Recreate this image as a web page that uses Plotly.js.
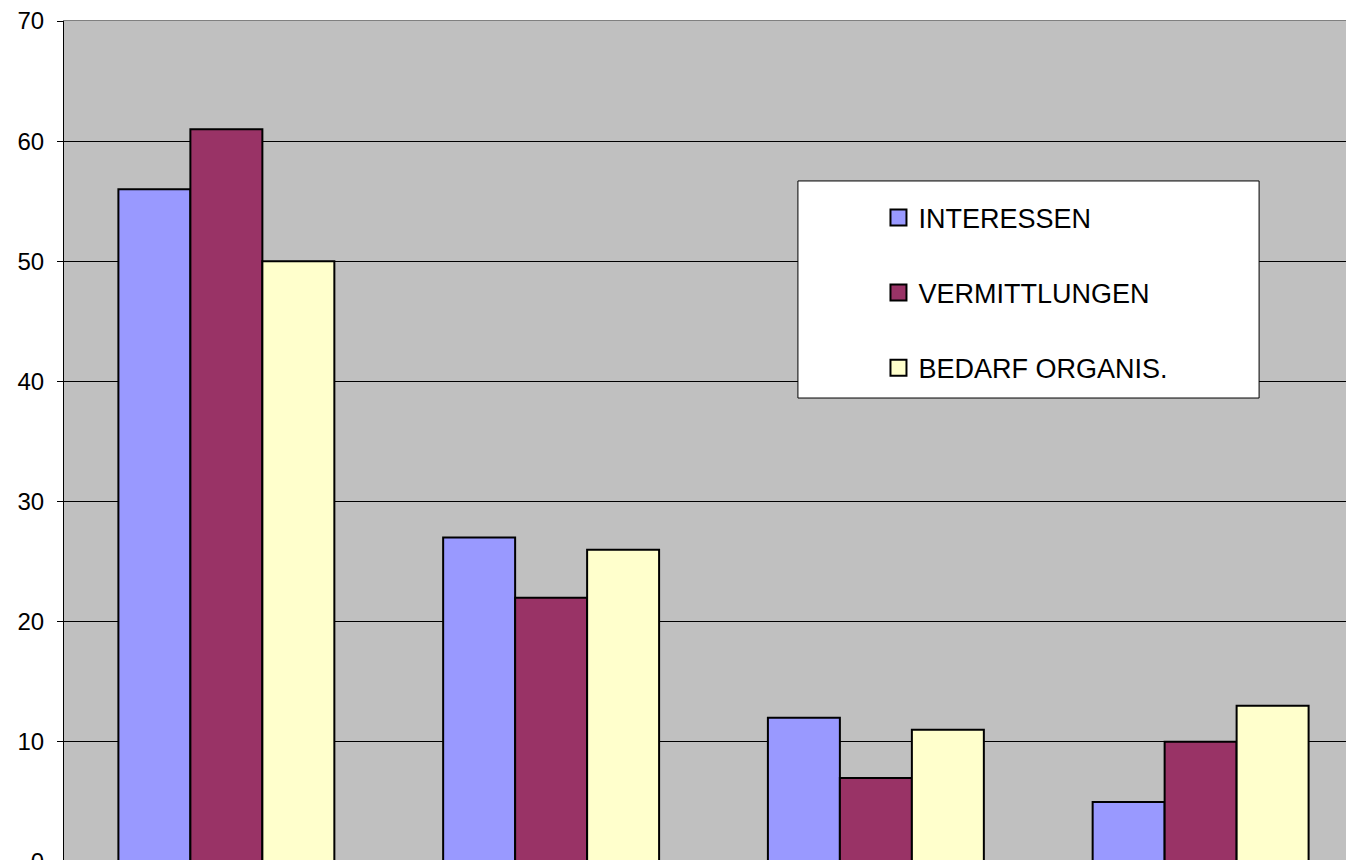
<!DOCTYPE html>
<html>
<head>
<meta charset="utf-8">
<script src="https://cdn.plot.ly/plotly-3.0.1.min.js"></script>
<style>
html,body{margin:0;padding:0;overflow:hidden;background:#fff;}
#chart{width:1363px;height:890px;}
</style>
</head>
<body>
<div id="chart"></div>
<script>
const categories = ["1", "2", "3", "4"];
const seriesNames = ["INTERESSEN", "VERMITTLUNGEN", "BEDARF ORGANIS."];
const interessen = [56, 27, 12, 5];
const vermittlungen = [61, 22, 7, 10];
const bedarfOrganis = [50, 26, 11, 13];
const yTicks = [0, 10, 20, 30, 40, 50, 60, 70];

const colors = ["#9999FF", "#993366", "#FFFFCC"];
const values = [interessen, vermittlungen, bedarfOrganis];

const traces = values.map((v, i) => ({
  type: "bar",
  name: seriesNames[i],
  x: categories,
  y: v,
  showlegend: false,
  marker: {color: colors[i], line: {color: "#000000", width: 2}},
  hoverinfo: "y+name"
}));

const legendTraces = seriesNames.map((n, i) => ({
  type: "scatter",
  mode: "markers",
  name: n,
  x: [null],
  y: [null],
  legendgroup: "g" + i,
  marker: {symbol: "square", size: 16, color: colors[i], line: {color: "#000000", width: 2}},
  hoverinfo: "skip"
}));

const layout = {
  width: 1363,
  height: 890,
  margin: {l: 64, r: 0, t: 21, b: 28, pad: 0},
  paper_bgcolor: "#FFFFFF",
  plot_bgcolor: "#C0C0C0",
  barmode: "group",
  bargap: 0.335,
  bargroupgap: 0,
  font: {family: "Liberation Sans, Arial, sans-serif", color: "#000000"},
  xaxis: {
    type: "category",
    showticklabels: false,
    ticks: "",
    showgrid: false,
    showline: true,
    mirror: true,
    linecolor: "#808080",
    linewidth: 1,
    zeroline: false
  },
  yaxis: {
    range: [0, 70],
    tickvals: yTicks,
    ticktext: yTicks.map(String),
    ticks: "outside",
    ticklen: 6,
    tickcolor: "#000000",
    ticklabelstandoff: 8,
    tickfont: {size: 24, family: "Liberation Sans, Arial, sans-serif", color: "#000000"},
    showgrid: true,
    gridcolor: "#000000",
    gridwidth: 1,
    showline: true,
    linecolor: "#000000",
    linewidth: 1,
    zeroline: false,
    automargin: false
  },
  showlegend: true,
  legend: {
    x: 0.627,
    y: 0.795,
    xanchor: "left",
    yanchor: "top",
    bgcolor: "rgba(0,0,0,0)",
    borderwidth: 0,
    traceorder: "grouped",
    tracegroupgap: 37,
    font: {size: 27, family: "Liberation Sans, Arial, sans-serif", color: "#000000"}
  },
  shapes: [{
    type: "rect",
    xref: "paper", yref: "paper",
    x0: 0.565, x1: 0.920, y0: 0.5517, y1: 0.8098,
    fillcolor: "#FFFFFF",
    line: {color: "#000000", width: 1},
    layer: "above"
  }]
};

Plotly.newPlot("chart", traces.concat(legendTraces), layout, {displayModeBar: false, staticPlot: true});
</script>
</body>
</html>
